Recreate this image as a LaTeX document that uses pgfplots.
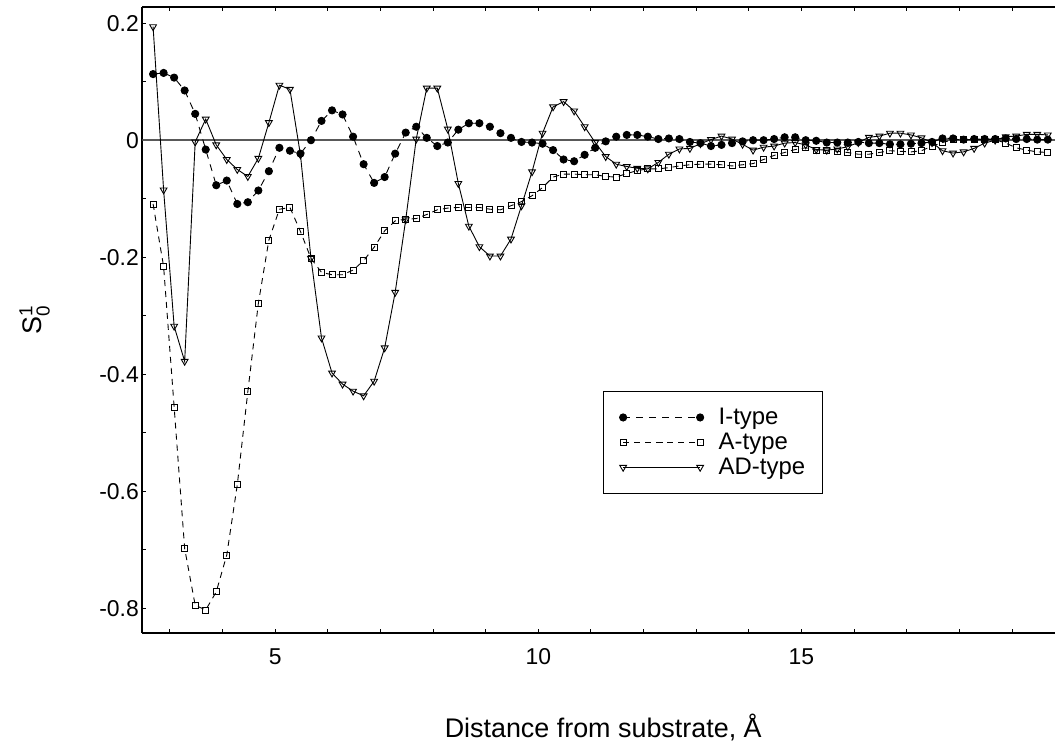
\documentclass[border=0pt]{standalone}
\usepackage{fontspec}
\setmainfont{Liberation Sans}
\usepackage{amsmath}
\usepackage{pgfplots}
\pgfplotsset{compat=1.18}
\usepackage{pgfplotstable}

\pgfplotstableread{
x I A AD
2.68 0.113 -0.109 0.194
2.88 0.115 -0.216 -0.085
3.08 0.107 -0.456 -0.318
3.28 0.085 -0.698 -0.378
3.48 0.045 -0.795 -0.003
3.68 -0.016 -0.803 0.036
3.88 -0.077 -0.772 -0.008
4.08 -0.069 -0.709 -0.033
4.28 -0.109 -0.589 -0.050
4.48 -0.106 -0.430 -0.062
4.68 -0.086 -0.279 -0.031
4.88 -0.053 -0.171 0.030
5.08 -0.013 -0.118 0.094
5.28 -0.018 -0.115 0.087
5.48 -0.023 -0.156 -0.025
5.68 0.000 -0.202 -0.202
5.88 0.033 -0.226 -0.338
6.08 0.051 -0.230 -0.398
6.28 0.044 -0.230 -0.417
6.48 0.006 -0.222 -0.429
6.68 -0.041 -0.206 -0.437
6.88 -0.073 -0.183 -0.412
7.08 -0.063 -0.155 -0.355
7.28 -0.023 -0.138 -0.260
7.48 0.013 -0.135 -0.136
7.68 0.023 -0.134 0.002
7.88 0.004 -0.127 0.089
8.08 -0.010 -0.119 0.089
8.28 -0.004 -0.116 0.019
8.48 0.018 -0.115 -0.074
8.68 0.029 -0.115 -0.147
8.88 0.029 -0.115 -0.182
9.08 0.023 -0.118 -0.198
9.28 0.012 -0.119 -0.198
9.48 0.004 -0.112 -0.169
9.68 -0.003 -0.105 -0.112
9.88 -0.004 -0.095 -0.054
10.08 -0.006 -0.081 0.012
10.28 -0.017 -0.063 0.057
10.48 -0.033 -0.058 0.066
10.68 -0.036 -0.058 0.050
10.88 -0.025 -0.059 0.023
11.08 -0.013 -0.059 -0.004
11.28 -0.002 -0.062 -0.028
11.48 0.006 -0.063 -0.041
11.68 0.009 -0.057 -0.045
11.88 0.009 -0.052 -0.048
12.08 0.006 -0.049 -0.049
12.28 0.002 -0.049 -0.038
12.48 0.003 -0.047 -0.024
12.68 0.002 -0.044 -0.015
12.88 -0.003 -0.042 -0.014
13.08 -0.005 -0.041 -0.006
13.28 -0.010 -0.041 0.001
13.48 -0.008 -0.042 0.007
13.68 -0.005 -0.044 0.002
13.88 -0.002 -0.042 -0.007
14.08 0.000 -0.040 -0.017
14.28 0.000 -0.033 -0.012
14.48 0.002 -0.026 -0.010
14.68 0.005 -0.021 -0.005
14.88 0.005 -0.016 -0.004
15.08 0.000 -0.013 -0.008
15.28 -0.001 -0.017 -0.016
15.48 -0.004 -0.018 -0.017
15.68 -0.004 -0.019 -0.015
15.88 -0.004 -0.021 -0.011
16.08 -0.003 -0.024 -0.004
16.28 -0.005 -0.024 0.005
16.48 -0.005 -0.021 0.007
16.68 -0.007 -0.018 0.012
16.88 -0.007 -0.019 0.012
17.08 -0.006 -0.020 0.009
17.28 -0.005 -0.018 0.004
17.48 -0.003 -0.010 -0.004
17.68 0.003 -0.004 -0.018
17.88 0.003 0.001 -0.022
18.08 0.001 0.001 -0.020
18.28 0.002 0.001 -0.014
18.48 0.002 0.001 -0.005
18.68 0.002 0.001 0.000
18.88 0.003 -0.005 0.006
19.08 0.002 -0.013 0.007
19.28 0.002 -0.017 0.010
19.48 0.001 -0.020 0.010
19.68 0.001 -0.021 0.009
}\data

\begin{document}
\begin{tikzpicture}
\path[use as bounding box] (-142.3bp,-114bp) rectangle (912.7bp,633bp);
\begin{axis}[
  scale only axis, width=912.7bp, height=626bp,
  at={(0,0)}, anchor=south west,
  xmin=2.475, xmax=19.817, ymin=-0.8424, ymax=0.2277,
  axis x line*=box, axis y line*=left,
  tick align=inside,
  axis line style={line width=1.6bp, black},
  xtick={5,10,15}, xticklabels={5,10,15},
  minor xtick={3,4,6,7,8,9,11,12,13,14,16,17,18,19},
  ytick={-0.8,-0.6,-0.4,-0.2,0,0.2},
  yticklabels={-0.8,-0.6,-0.4,-0.2,0,0.2},
  minor ytick={-0.7,-0.5,-0.3,-0.1,0.1},
  major tick length=4bp, minor tick length=4bp,
  every tick/.style={black, line width=1bp},
  tick label style={font=\fontsize{23}{27}\selectfont},
  xticklabel style={yshift=-12bp},
  xlabel={Distance from substrate, Å},
  xlabel style={at={(axis description cs:0.505,-0.1677)}, anchor=base, font=\fontsize{27}{32}\selectfont},
  ylabel={S$_{\textrm{0}}^{\textrm{1}}$},
  ylabel style={at={(axis description cs:-0.118,0.5)}, anchor=center, font=\fontsize{27}{32}\selectfont},
  legend style={at={(axis description cs:0.5048,0.3866)}, anchor=north west,
    draw=black, line width=1bp, inner xsep=16bp, inner ysep=16bp,
    font=\fontsize{24}{28}\selectfont, row sep=5bp, column sep=14bp,
    nodes={inner sep=1bp}},
  legend cell align=left,
  legend image code/.code={\draw[mark repeat=2, mark phase=1, #1] plot coordinates {(0bp,0bp) (38.5bp,0bp) (77bp,0bp)};},
]
\addplot[forget plot, color=black!65, line width=1.8bp] coordinates {(2.475,0) (19.817,0)};
\addplot[black, line width=0.9bp, dash pattern=on 7bp off 6bp, mark=*, mark size=3.6bp, mark options={solid, fill=black}] table[x=x,y=I]{\data};
\addplot[black, line width=0.9bp, dash pattern=on 6bp off 5bp, mark=square, mark size=3bp, mark options={solid}] table[x=x,y=A]{\data};
\addplot[black, line width=0.9bp, mark=triangle, mark size=3.9bp, mark options={solid, rotate=180}] table[x=x,y=AD]{\data};
\legend{I-type, A-type, AD-type}
\end{axis}
\end{tikzpicture}
\end{document}
